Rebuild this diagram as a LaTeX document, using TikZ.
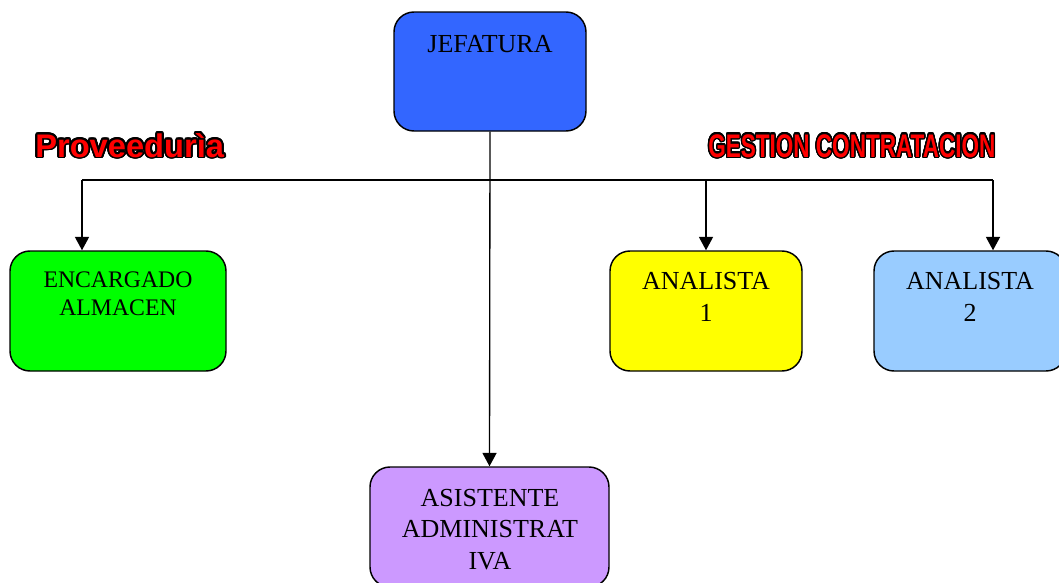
\documentclass[tikz,border=0pt]{standalone}
\usepackage{fontspec}
\setmainfont{Liberation Serif}
\newfontfamily\lblfont{Liberation Sans}
\usepackage[copies]{contour}
\usepackage{tikz}
\usetikzlibrary{arrows.meta}
\contourlength{1.4pt}
\contournumber{24}

\definecolor{jefblue}{RGB}{51,102,255}
\definecolor{almgreen}{RGB}{0,255,0}
\definecolor{anyellow}{RGB}{255,255,0}
\definecolor{anblue}{RGB}{153,204,255}
\definecolor{asipurple}{RGB}{204,153,255}

\tikzset{
  unitbox/.style={draw=black, line width=1.1pt, rounded corners=15pt, inner sep=0pt},
  unittext/.style={anchor=north, inner sep=0pt, align=center, font=\fontsize{19.5}{24}\selectfont},
  arr/.style={line width=1pt, -{Triangle[length=10pt,width=10.5pt]}},
  areatext/.style={inner sep=0pt, anchor=base west, text=red, font=\lblfont\bfseries\fontsize{24.5}{28}\selectfont}
}

\begin{document}
\begin{tikzpicture}[x=0.75pt,y=0.75pt,yscale=-1,xscale=1]
\useasboundingbox (0,0) rectangle (1059,582);
\clip (0,0) rectangle (1059,582);

% Boxes
\node [unitbox, fill=jefblue, minimum width=144pt, minimum height=89.25pt] (jef) at (490,71.5) {};
\node [unitbox, fill=almgreen, minimum width=162pt, minimum height=90pt] (alm) at (118,311) {};
\node [unitbox, fill=anyellow, minimum width=144pt, minimum height=90pt] (an1) at (706,311) {};
\node [unitbox, fill=anblue, minimum width=144pt, minimum height=90pt] (an2) at (970,311) {};
\node [unitbox, fill=asipurple, minimum width=179.25pt, minimum height=90pt] (asi) at (489.5,527) {};

% Box texts
\node [unittext] (jeftxt) at (490,35) {JEFATURA};
\node [unittext, font=\fontsize{17.8}{20.3}\selectfont] (almtxt) at (118,272) {ENCARGADO\\ALMACEN};
\node [unittext] (an1txt) at (706,272) {ANALISTA\\1};
\node [unittext] (an2txt) at (970,272) {ANALISTA\\2};
\node [unittext, font=\fontsize{19.5}{23.5}\selectfont] (asitxt) at (490,489) {ASISTENTE\\ADMINISTRAT\\IVA};

% Area labels
\node [areatext] (prov) at (35,157) {\contour{black}{Proveedurìa}};
\node [areatext] (gest) at (708,157) {\scalebox{0.69}[1]{\contour{black}{GESTION CONTRATACION}}};

% Connectors
\coordinate (busL) at (82,180);
\coordinate (busR) at (993,180);
\draw [line width=1pt] (busL) -- (busR);
\draw [arr] (jef.south) -- (asi.north);
\draw [arr] (busL) -- (busL |- alm.north);
\draw [arr] (an1.north |- busL) -- (an1.north);
\draw [arr] (busR) -- (busR |- an2.north);

\end{tikzpicture}
\end{document}
